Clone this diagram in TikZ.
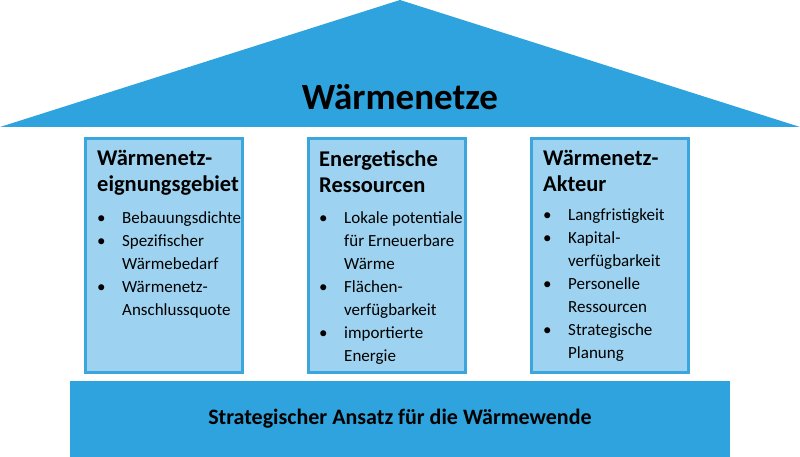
\documentclass[tikz,border=0pt]{standalone}
\usepackage{fontspec}
\setmainfont{Carlito}
\definecolor{roofblue}{HTML}{2FA3DD}
\definecolor{pillarfill}{HTML}{9DD3F0}
\definecolor{pillarline}{HTML}{3BA6DC}
\begin{document}
\begin{tikzpicture}[x=1pt,y=-1pt,
  pillar/.style={draw=pillarline,line width=3pt,fill=pillarfill},
  head/.style={anchor=north west,align=left,font=\fontsize{22.5}{26}\selectfont\bfseries,inner sep=0pt},
  items/.style={anchor=north west,align=left,font=\fontsize{17}{23}\selectfont,inner sep=0pt}]
\useasboundingbox (0,0) rectangle (800,457);
\fill[roofblue] (0,127) -- (400,0) -- (800,127) -- cycle;
\node[font=\fontsize{37}{40}\selectfont\bfseries] (title) at (400,97) {Wärmenetze};
\foreach \x/\n in {85/a,308/b,531/c}{
  \draw[pillar] (\x,139) rectangle (\x+157,372);
}
\fill[roofblue] (70,381) rectangle (730,457);
\node[font=\fontsize{22}{24}\selectfont\bfseries] (base) at (400,419) {Strategischer Ansatz für die Wärmewende};
\newcommand{\bl}{\makebox[25pt][l]{•}}
\newcommand{\ind}{\hspace*{25pt}}
\node[head] (h1) at (97,150) {Wärmenetz-\\eignungsgebiet};
\node[items] (l1) at (97,211) {\bl Bebauungsdichte\\ \bl Spezifischer\\ \ind Wärmebedarf\\ \bl Wärmenetz-\\ \ind Anschlussquote};
\node[head] (h2) at (319,150) {Energetische\\Ressourcen};
\node[items] (l2) at (319,211) {\bl Lokale potentiale\\ \ind für Erneuerbare\\ \ind Wärme\\ \bl Flächen-\\ \ind verfügbarkeit\\ \bl importierte\\ \ind Energie};
\node[head] (h3) at (543,150) {Wärmenetz-\\Akteur};
\node[items] (l3) at (543,208) {\bl Langfristigkeit\\ \bl Kapital-\\ \ind verfügbarkeit\\ \bl Personelle\\ \ind Ressourcen\\ \bl Strategische\\ \ind Planung};
\end{tikzpicture}
\end{document}
